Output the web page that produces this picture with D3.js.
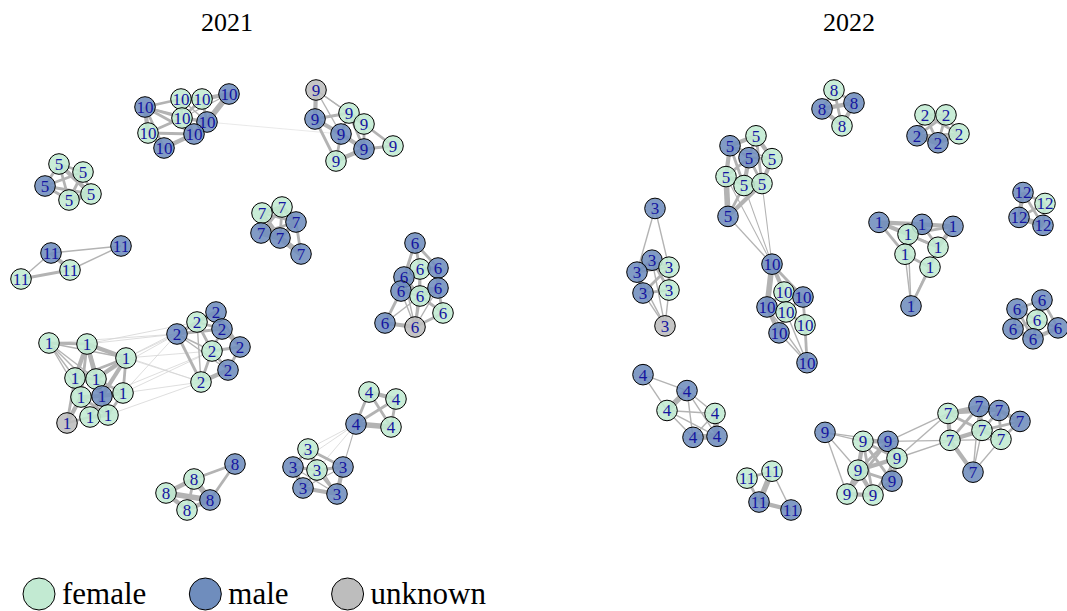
<!DOCTYPE html>
<html>
<head>
<meta charset="utf-8">
<script src="https://cdn.jsdelivr.net/npm/d3@7"></script>
<style>
  body { margin: 0; background: #fff; }
  svg { display: block; font-family: "Liberation Serif", "DejaVu Serif", serif; }
</style>
</head>
<body>
<div id="my_dataviz"></div>
<script>
// Co-occurrence networks per year, nodes coloured by gender, labelled by group

var years = ["2021", "2022"];
var genders = ["female", "male", "unknown"];
var genderCodes = ["f", "m", "u"];

// nodes: [group, gender code, layout x, layout y]
var nodes2021 = [
  // group 10
  [10,"m",145,107],[10,"f",181,99],[10,"f",202,99],[10,"m",229,94],[10,"f",182,118],
  [10,"m",207,122],[10,"f",148,133],[10,"m",194,134],[10,"m",164,148],
  // group 5
  [5,"f",59,164],[5,"f",83,172],[5,"m",45,186],[5,"f",91,194],[5,"f",69,200],
  // group 11
  [11,"m",51,253],[11,"m",121,246],[11,"f",70,270],[11,"f",21,279],
  // group 7
  [7,"f",262,213],[7,"f",282,207],[7,"m",296,222],[7,"m",261,233],[7,"m",280,238],[7,"m",301,254],
  // group 9
  [9,"u",316,90],[9,"m",315,119],[9,"f",349,113],[9,"f",364,124],[9,"m",341,134],
  [9,"m",364,149],[9,"f",393,146],[9,"f",336,161],
  // group 6
  [6,"m",415,243],[6,"f",420,269],[6,"m",438,268],[6,"m",404,277],[6,"m",401,291],
  [6,"f",420,296],[6,"m",438,288],[6,"f",443,313],[6,"m",385,323],[6,"u",415,327],
  // group 1
  [1,"f",49,343],[1,"f",87,344],[1,"f",126,358],[1,"f",75,378],[1,"f",96,379],[1,"f",81,397],
  [1,"m",102,396],[1,"f",123,393],[1,"u",67,423],[1,"f",90,417],[1,"f",108,415],
  // group 2
  [2,"m",177,334],[2,"f",197,322],[2,"m",216,312],[2,"m",222,329],[2,"f",212,351],
  [2,"m",240,347],[2,"m",228,370],[2,"f",201,382],
  // group 4
  [4,"f",369,392],[4,"f",396,399],[4,"m",356,424],[4,"f",391,427],
  // group 3
  [3,"f",308,449],[3,"m",293,467],[3,"f",317,470],[3,"m",343,467],[3,"m",303,488],[3,"m",337,494],
  // group 8
  [8,"m",235,464],[8,"f",194,479],[8,"f",166,493],[8,"m",210,500],[8,"f",187,510]
];

// edges: [source, target, weight]
var edges2021 = [
  // 10
  [0,1,2],[0,4,2],[0,6,3],[0,8,2],[0,7,2],[1,2,3],[1,4,2],[2,3,3],[2,5,2],[3,5,4],[4,5,2],
  [4,6,2],[4,7,2],[5,7,4],[6,8,3],[7,8,3],[1,7,1],[6,7,2],[0,5,1],[2,4,2],[1,5,1],[3,4,1],
  [5,28,0.4],
  // 5
  [9,10,2],[9,11,2],[9,12,3],[9,13,2],[10,11,2],[10,12,2],[10,13,2],[11,12,2],[11,13,2],[12,13,4],
  // 11
  [14,16,3],[14,15,1],[14,17,1],[15,16,1],[16,17,2],
  // 7
  [18,19,3],[18,20,2],[18,21,3],[19,20,3],[20,22,3],[20,23,2],[21,22,4],[22,23,4],
  [18,22,3],[19,21,2],[19,22,2],[20,21,2],
  // 9
  [24,25,3],[24,26,1],[24,28,1],[24,27,1],[25,26,2],[25,28,3],[25,31,2],[26,27,3],[26,28,2],
  [27,29,2],[27,30,2],[28,29,3],[28,31,2],[29,31,3],[29,30,2],[26,29,2],[25,29,1],
  // 6
  [32,33,2],[32,34,2],[32,35,2],[33,34,3],[33,35,2],[33,36,2],[33,37,2],[34,38,3],[35,36,3],
  [36,37,2],[37,38,3],[36,40,2],[37,41,2],[38,39,2],[40,41,3],[41,39,2],[36,41,1],[35,41,1],
  [33,41,1],[38,41,1],[37,39,2],[36,38,2],[35,37,2],[40,37,1],[32,36,1],
  // 1
  [42,43,2],[42,45,1],[42,46,1],[42,47,1],[42,48,1],[42,44,1],[43,44,3],[43,45,3],[43,46,3],
  [43,47,2],[43,48,3],[44,46,3],[44,48,3],[44,49,2],[45,46,2],[45,47,3],[46,48,3],[47,48,3],
  [47,50,3],[48,49,3],[48,51,2],[48,52,2],[50,51,2],[51,52,3],[49,52,2],[45,50,2],[47,51,2],
  [44,45,2],[46,49,2],[47,52,2],
  // 1 - 2
  [44,53,0.6],[44,60,0.6],[44,54,0.6],[44,57,0.6],[49,53,0.6],[49,60,0.6],[43,53,0.6],
  [43,60,0.6],[42,53,0.6],[52,60,0.6],[46,53,0.6],[48,57,0.6],[49,57,0.6],[43,54,0.6],
  // 2
  [53,54,2],[53,55,2],[53,56,2],[53,57,1],[53,60,2],[54,55,3],[54,56,2],[54,57,2],[55,56,3],
  [56,58,2],[57,58,2],[57,59,2],[58,59,2],[59,60,3],[57,60,2],[56,57,2],[53,59,1],[54,60,1],[55,58,2],
  // 4
  [61,62,3],[61,63,2],[61,64,2],[62,64,2],[62,63,2],[63,64,4],
  // 4 - 3
  [63,65,0.6],[63,67,0.6],[63,66,0.6],[63,68,0.8],
  // 3
  [65,66,2],[65,67,2],[65,68,2],[66,67,2],[66,69,3],[67,68,2],[67,70,2],[68,70,3],[69,70,3],
  [67,69,2],[66,70,1],[65,70,1],[68,69,1],
  // 8
  [71,72,2],[71,74,2],[72,73,3],[72,74,4],[72,75,2],[73,74,4],[73,75,3],[74,75,3]
];

var nodes2022 = [
  // group 5
  [5,"f",756,135],[5,"m",730,145],[5,"m",749,157],[5,"f",772,158],[5,"f",726,176],
  [5,"f",744,185],[5,"f",762,183],[5,"m",728,216],
  // group 3
  [3,"m",655,208],[3,"m",652,260],[3,"m",637,272],[3,"f",669,267],[3,"m",643,293],
  [3,"f",669,290],[3,"u",665,326],
  // group 10
  [10,"m",772,264],[10,"f",784,292],[10,"m",803,297],[10,"m",767,307],[10,"f",786,312],
  [10,"f",805,325],[10,"m",779,333],[10,"m",807,363],
  // group 8
  [8,"f",834,89],[8,"m",822,108],[8,"m",854,102],[8,"f",842,125],
  // group 2
  [2,"f",925,114],[2,"f",946,114],[2,"m",917,135],[2,"m",938,142],[2,"f",959,133],
  // group 12
  [12,"m",1023,192],[12,"f",1045,203],[12,"m",1019,217],[12,"m",1043,225],
  // group 1
  [1,"m",879,222],[1,"m",922,224],[1,"m",953,226],[1,"f",908,234],[1,"f",938,247],
  [1,"f",905,254],[1,"f",930,267],[1,"m",911,306],
  // group 6
  [6,"m",1042,300],[6,"m",1017,309],[6,"f",1037,320],[6,"m",1013,329],[6,"m",1058,328],[6,"m",1033,339],
  // group 4
  [4,"m",643,375],[4,"m",687,391],[4,"f",667,411],[4,"f",715,414],[4,"m",693,438],[4,"m",717,437],
  // group 11
  [11,"f",747,479],[11,"f",772,472],[11,"m",759,503],[11,"m",791,511],
  // group 9
  [9,"m",825,433],[9,"f",863,442],[9,"m",888,442],[9,"f",897,459],[9,"f",858,471],
  [9,"m",892,482],[9,"f",847,495],[9,"f",873,496],
  // group 7
  [7,"f",948,414],[7,"m",979,407],[7,"m",999,411],[7,"m",1020,422],[7,"f",982,431],
  [7,"f",950,441],[7,"f",1001,440],[7,"m",973,473]
];

var edges2022 = [
  // 5
  [0,1,3],[0,3,3],[0,2,2],[1,2,2],[1,4,3],[2,3,2],[2,5,3],[3,6,3],[4,5,2],[5,6,3],[4,7,4],
  [5,7,2],[6,7,3],[1,5,2],[2,6,2],[4,6,2],[0,6,2],[1,3,1],[2,4,2],
  // 5 - 10
  [7,15,1],[5,15,0.8],[6,15,0.8],[4,15,0.8],
  // 3
  [8,10,1],[8,11,1],[9,10,2],[9,11,2],[10,12,2],[11,13,2],[12,13,2],[9,13,2],[10,11,2],
  [12,14,1],[13,14,1],[10,14,1],[9,14,1],[11,12,2],
  // 10
  [15,16,3],[15,18,4],[15,17,2],[16,17,2],[16,19,3],[17,20,2],[18,21,3],[19,21,3],[20,22,2],
  [21,22,1],[19,22,1],[18,22,1],[16,18,2],[19,20,2],[17,19,2],[18,19,2],
  // 8
  [23,24,2],[23,25,2],[24,26,3],[25,26,3],[23,26,2],[24,25,3],
  // 2
  [27,28,2],[27,29,3],[28,31,2],[29,30,4],[30,31,3],[27,30,2],[28,30,2],[29,31,2],[27,31,2],[28,29,2],
  // 12
  [32,33,2],[32,34,3],[33,35,2],[34,35,4],[32,35,2],[33,34,2],
  // 1
  [36,37,3],[36,39,3],[36,41,2],[37,38,3],[37,39,3],[38,40,3],[39,40,2],[39,41,3],[40,42,2],
  [41,42,2],[36,40,2],[37,40,2],[38,39,2],[37,41,2],[43,41,1],[43,42,2],[43,39,1],[43,40,1],
  // 6
  [44,45,2],[44,46,3],[44,48,2],[45,47,2],[45,46,2],[46,47,2],[46,49,2],[46,48,2],[47,49,3],
  [48,49,3],[45,49,2],
  // 4
  [50,51,1],[50,52,1],[51,52,4],[51,53,1],[51,54,1],[52,53,1],[52,54,1],[52,55,1],[53,54,1],
  [53,55,4],[54,55,4],[51,55,1],
  // 11
  [56,57,2],[56,58,2],[57,58,4],[57,59,1],[58,59,3],
  // 9
  [60,61,1],[60,64,1],[60,66,1],[60,62,1],[61,62,3],[61,64,3],[62,63,3],[62,65,2],[63,65,3],
  [63,64,3],[64,66,3],[64,67,3],[65,67,3],[66,67,3],[61,63,2],[61,65,2],[62,64,2],[64,65,2],
  [61,67,2],[63,67,2],[62,66,2],
  // 9 - 7
  [62,68,1],[62,73,1],[63,73,1],[63,68,1],
  // 7
  [68,69,3],[68,73,3],[69,70,3],[69,72,3],[70,71,3],[70,74,2],[71,74,2],[72,73,3],[72,74,3],
  [73,74,1],[73,75,3],[72,75,1],[74,75,1],[69,73,2],[68,72,2],[70,72,2],[71,72,2],[68,70,2],[69,75,1]
];

var networks = [
  {year: years[0], nodes: nodes2021, edges: edges2021},
  {year: years[1], nodes: nodes2022, edges: edges2022}
];

// canvas
var width = 1067, height = 611, nodeRadius = 10.3;
var fillColor = d3.scaleOrdinal().domain(genderCodes).range(["#c2ead2", "#6f8dbd", "#bdbdbd"]);

var svg = d3.select("#my_dataviz")
    .append("svg")
    .attr("width", width)
    .attr("height", height);

// panel plotting regions (layout is rescaled into these, like igraph does)
var panels = [
    {left: 21, right: 443, titleX: 227},
    {left: 637, right: 1058, titleX: 849}
];
var plotTop = 90, plotBottom = 510;

networks.forEach(function (net, k) {
    var p = panels[k];
    var nodes = net.nodes.map(function (n) {
        return {group: n[0], gender: n[1], lx: n[2], ly: n[3]};
    });

    var x = d3.scaleLinear()
        .domain(d3.extent(nodes, function (d) { return d.lx; }))
        .range([p.left, p.right]);
    var y = d3.scaleLinear()
        .domain(d3.extent(nodes, function (d) { return d.ly; }))
        .range([plotTop, plotBottom]);

    var g = svg.append("g");

    // title
    g.append("text")
        .attr("x", p.titleX)
        .attr("y", 31)
        .attr("text-anchor", "middle")
        .style("font-size", "26px")
        .style("fill", "#000")
        .text(net.year);

    // edges, thin light ones first
    var edges = net.edges.slice().sort(function (a, b) { return a[2] - b[2]; });
    g.append("g")
        .selectAll("line")
        .data(edges)
        .enter()
        .append("line")
        .attr("x1", function (d) { return x(nodes[d[0]].lx); })
        .attr("y1", function (d) { return y(nodes[d[0]].ly); })
        .attr("x2", function (d) { return x(nodes[d[1]].lx); })
        .attr("y2", function (d) { return y(nodes[d[1]].ly); })
        .attr("stroke", function (d) { return d[2] < 0.7 ? "#d4d4d4" : "#b3b3b3"; })
        .attr("stroke-width", function (d) { return d[2] < 1 ? d[2] * 1.3 : d[2] * 1.4; })
        .attr("stroke-linecap", "butt");

    // vertices
    g.append("g")
        .selectAll("circle")
        .data(nodes)
        .enter()
        .append("circle")
        .attr("cx", function (d) { return x(d.lx); })
        .attr("cy", function (d) { return y(d.ly); })
        .attr("r", nodeRadius)
        .attr("fill", function (d) { return fillColor(d.gender); })
        .attr("fill-opacity", 0.88)
        .attr("stroke", "#000")
        .attr("stroke-width", 1);

    // vertex labels on top
    g.append("g")
        .selectAll("text")
        .data(nodes)
        .enter()
        .append("text")
        .attr("x", function (d) { return x(d.lx); })
        .attr("y", function (d) { return y(d.ly); })
        .attr("dy", "0.35em")
        .attr("text-anchor", "middle")
        .style("font-size", "17px")
        .style("fill", "#1414a0")
        .text(function (d) { return d.group; });
});

// legend along the bottom
var legend = svg.append("g").attr("transform", "translate(0,594)");
var cursor = 23;
genders.forEach(function (name, i) {
    var item = legend.append("g");
    item.append("circle")
        .attr("cx", cursor + 16)
        .attr("cy", 0)
        .attr("r", 16)
        .attr("fill", fillColor(genderCodes[i]))
        .attr("stroke", "#000")
        .attr("stroke-width", 1);
    var t = item.append("text")
        .attr("x", cursor + 39)
        .attr("y", 9.5)
        .style("font-size", "31px")
        .style("fill", "#000")
        .text(name);
    cursor = cursor + 39 + t.node().getComputedTextLength() + 43;
});
</script>
</body>
</html>
